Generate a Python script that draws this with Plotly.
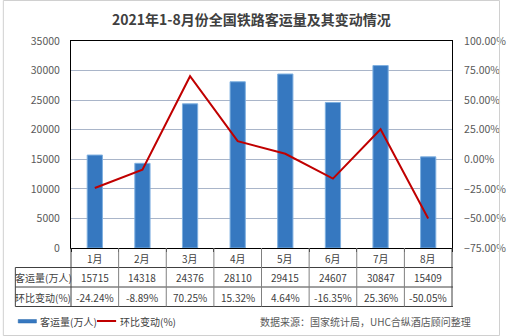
import plotly.graph_objects as go

months = ["1月", "2月", "3月", "4月", "5月", "6月", "7月", "8月"]
passengers = [15715, 14318, 24376, 28110, 29415, 24607, 30847, 15409]
change_pct = [-24.24, -8.89, 70.25, 15.32, 4.64, -16.35, 25.36, -50.05]
row_labels = ["客运量(万人)", "环比变动(%)"]
legend_names = ["客运量(万人)", "环比变动(%)"]
title = "2021年1-8月份全国铁路客运量及其变动情况"
source = "数据来源：国家统计局，UHC合纵酒店顾问整理"

W, H = 518, 336
L, R, T, B = 71, 50, 41, 88
PW, PH = W - L - R, H - T - B
FONT = "Noto Sans CJK SC, Microsoft YaHei, sans-serif"


def px(x):
    return (x - L) / PW


def py(y):
    return (H - B - y) / PH


fig = go.Figure()
fig.add_trace(go.Bar(
    x=months, y=passengers, width=0.32, name=legend_names[0],
    marker=dict(color="#3678c0", line=dict(color="#7fb0e0", width=1)),
    showlegend=False, yaxis="y",
))
fig.add_trace(go.Scatter(
    x=months, y=change_pct, mode="lines", name=legend_names[1],
    line=dict(color="#c00000", width=2), showlegend=False, yaxis="y2",
))

shapes = []
annotations = []

# outer frame
shapes.append(dict(type="rect", xref="paper", yref="paper",
                   x0=px(0.5), x1=px(W - 0.5), y0=py(H - 0.5), y1=py(0.5),
                   line=dict(color="#d0d0d0", width=1)))

# table
row_tops = [248, 267.5, 287, 306.5]
line_col = "#404040"
for yy in row_tops[1:]:
    shapes.append(dict(type="line", xref="paper", yref="paper",
                       x0=px(13), x1=px(469), y0=py(yy), y1=py(yy),
                       line=dict(color=line_col, width=1)))
shapes.append(dict(type="line", xref="paper", yref="paper",
                   x0=px(13), x1=px(13), y0=py(267.5), y1=py(306.5),
                   line=dict(color=line_col, width=1)))
for k in range(len(months) + 1):
    xx = L + k * PW / len(months)
    shapes.append(dict(type="line", xref="paper", yref="paper",
                       x0=px(xx), x1=px(xx), y0=py(248), y1=py(306.5),
                       line=dict(color="#808080" if 0 < k < len(months) else line_col, width=1)))

tfont = dict(family=FONT, size=10, color="#404040")


def ann(x, xref, y, text, xanchor="center", font=tfont):
    annotations.append(dict(x=x, xref=xref, y=y, yref="paper", text=text, xanchor=xanchor,
                            yanchor="middle", showarrow=False, font=font))


for i, m in enumerate(months):
    ann(m, "x", py(258), m)
    ann(m, "x", py(277.5), str(passengers[i]))
    ann(m, "x", py(297), f"{change_pct[i]:.2f}%")
ann(px(42), "paper", py(277.5), row_labels[0])
ann(px(42), "paper", py(297), row_labels[1])

# legend
shapes.append(dict(type="rect", xref="paper", yref="paper",
                   x0=px(16), x1=px(35), y0=py(323), y1=py(319.5),
                   fillcolor="#3678c0", line=dict(color="#2a6aad", width=0.5)))
ann(px(37), "paper", py(321), legend_names[0], xanchor="left")
shapes.append(dict(type="line", xref="paper", yref="paper",
                   x0=px(98), x1=px(118), y0=py(321), y1=py(321),
                   line=dict(color="#c00000", width=2)))
ann(px(120), "paper", py(321), legend_names[1], xanchor="left")
ann(px(490), "paper", py(321), source, xanchor="right",
    font=dict(family=FONT, size=10, color="#595959"))

# title
ann(px(259), "paper", py(19), f"<b>{title}</b>",
    font=dict(family=FONT, size=14, color="#404040"))

fig.update_layout(
    width=W, height=H, margin=dict(l=L, r=R, t=T, b=B),
    paper_bgcolor="white", plot_bgcolor="white",
    font=dict(family=FONT, size=10, color="#595959"),
    shapes=shapes, annotations=annotations,
    xaxis=dict(type="category", showticklabels=False, showline=True, linecolor="black",
               linewidth=1, mirror=True, ticks="outside", ticklen=3, tickcolor="black",
               tickson="boundaries", showgrid=False),
    yaxis=dict(range=[0, 35000], dtick=5000, tick0=0, tickformat="d", showgrid=True,
               gridcolor="#a9b5c9", gridwidth=1, showline=True, linecolor="black",
               linewidth=1, zeroline=False, ticks="", ticklabelstandoff=8,
               tickfont=dict(size=10.5, color="#595959")),
    yaxis2=dict(range=[-75, 100], dtick=25, tick0=-75, tickformat=".2f", ticksuffix="%",
                overlaying="y", side="right", showgrid=False, showline=True, linecolor="black",
                linewidth=1, zeroline=False, ticks="", ticklabelstandoff=9,
                tickfont=dict(size=10.5, color="#595959")),
    bargap=0.68,
)

fig.write_html("out.html")
